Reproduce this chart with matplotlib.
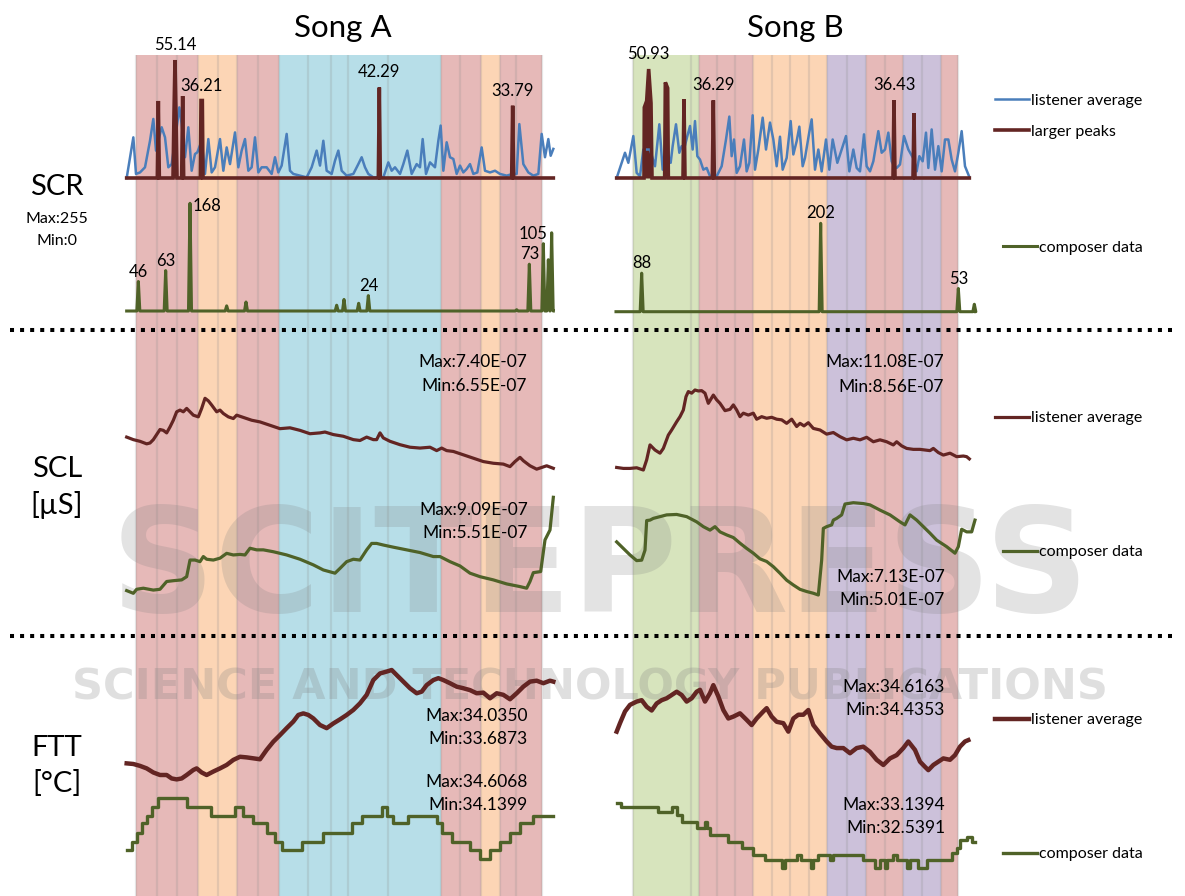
import matplotlib
matplotlib.use('Agg')
import matplotlib.pyplot as plt

plt.rcParams['font.family'] = ['Lato', 'DejaVu Sans']

# ---------------- data ----------------
SONGS = ['Song A', 'Song B']

# section boundaries (time, s) and section colours
A_EDGES = [4.8, 11.0, 17.2, 23.5, 29.5, 35.2, 41.5, 47.8, 56.5, 63.2, 68.5, 80.5,
           96.2, 102.0, 108.3, 114.0, 118.8, 126.5]
A_SECTIONS = ['red', 'red', 'red', 'orange', 'orange', 'red', 'red', 'blue', 'blue',
              'blue', 'blue', 'blue', 'red', 'red', 'orange', 'red', 'red']
B_EDGES = [9.8, 27.2, 29.7, 35.0, 40.5, 46.0, 51.5, 57.0, 62.8, 68.2, 74.0, 79.8,
           85.5, 90.8, 96.5, 102.2, 107.3]
B_SECTIONS = ['green', 'green', 'red', 'red', 'red', 'orange', 'orange', 'orange',
              'orange', 'purple', 'purple', 'red', 'red', 'purple', 'purple', 'red']

# SCR listener average (time, value)
A_SCR_LISTENER = [(2.0, 0), (4.0, 19.0), (4.8, 1.9), (6.0, 2.6), (7.5, 5.0), (9.0, 17.4), (10.0, 27.6),
    (10.8, 12.8), (11.5, 17.4), (12.5, 23.7), (13.5, 19.0), (14.5, 5.0), (15.5, 6.5), (16.5, 17.4),
    (17.8, 33.0), (18.5, 25.2), (19.5, 9.7), (20.5, 23.7), (21.5, 3.4), (22.5, 11.2), (23.2, 12.0),
    (24.5, 17.4), (25.5, 1.9), (26.5, 18.2), (27.5, 2.6), (28.5, 5.0), (30.0, 18.2), (31.0, 3.4),
    (32.0, 14.3), (33.0, 6.5), (34.5, 21.3), (35.5, 5.0), (36.5, 12.8), (37.5, 18.2), (38.5, 3.4),
    (39.5, 5.0), (40.5, 19.0), (41.5, 2.6), (42.5, 5.0), (44.0, 5.0), (45.5, 1.9), (46.5, 9.7),
    (47.5, 2.6), (48.5, 5.8), (50.0, 20.6), (51.0, 3.4), (52.0, 1.9), (54.0, 1.1), (56.0, 0.3),
    (57.5, 5.0), (59.0, 12.8), (60.0, 5.8), (61.0, 17.4), (62.0, 3.4), (63.5, 1.9), (64.5, 8.1),
    (65.5, 12.8), (66.5, 3.4), (68.0, 1.1), (70.0, 1.9), (71.5, 6.5), (72.5, 9.7), (73.5, 5.0),
    (74.5, 1.9), (76.0, 0.3), (77.8, 0.3), (79.0, 0.3), (80.5, 7.3), (81.5, 3.4), (82.5, 5.0),
    (84.0, 1.9), (85.0, 6.5), (86.2, 12.8), (87.5, 1.9), (89.0, 6.5), (90.0, 5.0), (90.8, 18.2),
    (91.8, 1.9), (93.0, 7.3), (94.5, 5.0), (95.5, 17.4), (96.2, 24.5), (97.0, 3.4), (98.0, 16.7),
    (99.0, 9.7), (100.0, 8.9), (101.0, 1.9), (102.0, 5.8), (103.0, 2.6), (104.0, 4.2), (105.0, 6.5),
    (106.0, 1.9), (107.2, 2.6), (108.5, 14.3), (109.5, 3.4), (111.0, 2.6), (112.5, 3.4), (114.0, 1.9),
    (116.0, 1.1), (117.8, 1.9), (119.0, 1.9), (119.8, 25.2), (121.0, 6.5), (122.5, 2.6), (124.0, 1.1),
    (125.5, 1.9), (126.5, 20.6), (127.5, 9.7), (128.5, 18.2), (129.2, 10.4), (130.0, 13.6)]
B_SCR_LISTENER = [(5.0, 0), (7.5, 11.8), (8.5, 7.1), (10.0, 19.6), (11.0, 2.4), (12.0, 0.8), (13.0, 13.3),
    (15.0, 13.3), (16.5, 5.5), (17.8, 25.1), (18.8, 3.9), (19.8, 13.3), (21.2, 7.1), (21.8, 14.9),
    (22.8, 25.1), (23.8, 11.8), (24.5, 14.9), (25.2, 13.3), (26.2, 19.6), (27.0, 24.3), (27.8, 13.3),
    (28.5, 26.6), (29.2, 10.2), (30.0, 8.6), (31.0, 3.9), (32.0, 4.7), (33.0, 0.8), (34.0, 0.8),
    (35.0, 0.8), (36.5, 5.5), (37.8, 18.0), (38.8, 28.7), (39.5, 10.2), (40.2, 18.0), (41.0, 2.4),
    (42.0, 5.5), (43.2, 18.0), (44.0, 3.1), (44.8, 7.1), (45.8, 29.3), (46.5, 3.9), (47.5, 13.3),
    (48.8, 28.2), (49.8, 13.3), (51.0, 25.9), (52.0, 18.0), (53.0, 5.5), (54.0, 19.3), (54.8, 3.9),
    (56.0, 9.4), (57.2, 26.6), (58.0, 11.0), (59.0, 17.2), (59.8, 24.0), (60.8, 5.5), (61.5, 9.4),
    (62.8, 21.5), (63.5, 27.4), (64.5, 3.9), (65.5, 13.3), (66.5, 3.1), (67.8, 18.0), (68.8, 3.9),
    (69.8, 18.0), (71.2, 7.1), (72.5, 13.3), (73.8, 19.6), (74.8, 3.1), (76.0, 13.3), (77.0, 4.7),
    (78.0, 3.1), (79.2, 20.4), (80.0, 5.5), (81.0, 3.1), (82.0, 7.8), (83.5, 21.9), (84.5, 11.8),
    (85.5, 13.3), (86.5, 21.2), (87.5, 7.8), (88.2, 5.5), (89.0, 4.7), (90.0, 6.3), (91.2, 19.6),
    (92.5, 13.3), (94.2, 8.6), (95.0, 3.1), (95.8, 10.2), (96.8, 7.8), (97.8, 21.2), (98.5, 4.7),
    (99.5, 22.7), (100.5, 3.9), (101.5, 14.9), (102.5, 3.1), (103.5, 18.0), (104.5, 18.0),
    (105.5, 8.6), (106.5, 3.1), (107.5, 11.8), (108.5, 21.9), (109.5, 5.5), (110.8, 0.5)]

# SCR larger peaks (time, value)
A_SCR_PEAKS = [(2.0, 0), (11.2, 0), (11.5, 36.0), (11.8, 0), (15.9, 0), (16.2, 30.0), (16.5, 55.14),
    (16.8, 30.0), (17.1, 0), (18.5, 0), (18.8, 38.3), (19.1, 0), (24.1, 0), (24.3, 36.21),
    (24.7, 36.21), (24.9, 0), (77.5, 0), (77.8, 42.29), (78.1, 0), (117.5, 0), (117.8, 33.79),
    (118.1, 0), (130.0, 0)]
B_SCR_PEAKS = [(5.0, 0), (13.2, 0), (13.3, 33.0), (14.0, 36.0), (14.6, 50.93), (15.3, 35.0), (15.6, 0),
    (19.4, 0), (19.6, 44.7), (20.3, 42.0), (20.5, 0), (24.9, 0), (25.2, 36.8), (25.5, 0),
    (33.7, 0), (34.0, 36.29), (34.3, 0), (87.9, 0), (88.2, 36.43), (88.5, 0), (93.9, 0),
    (94.2, 30.3), (94.5, 0), (110.8, 0)]
A_PEAK_LABELS = [(16.6, 55.14, '55.14'), (24.5, 36.21, '36.21'), (77.8, 42.29, '42.29'), (117.8, 33.79, '33.79')]
B_PEAK_LABELS = [(14.6, 50.93, '50.93'), (34.0, 36.29, '36.29'), (88.2, 36.43, '36.43')]

# SCR composer data: spikes (time, value), range 0..255
A_SCR_COMPOSER = [(5.5, 46), (13.7, 63), (21.0, 168), (32.0, 8), (37.8, 14), (65.0, 9), (67.2, 18),
    (71.6, 12), (74.5, 24), (119.0, 2), (122.8, 73), (127.0, 105), (128.5, 80), (129.5, 122)]
B_SCR_COMPOSER = [(12.5, 88), (66.2, 202), (107.5, 53), (112.3, 17)]
A_COMP_LABELS = [(5.5, 46, '46', 0), (13.7, 63, '63', 0), (74.5, 24, '24', 0),
                 (122.8, 73, '73', 0), (127.0, 105, '105', -10)]
B_COMP_LABELS = [(12.5, 88, '88', 0), (66.2, 202, '202', 0), (107.5, 53, '53', 0)]

# SCL (x1e-7 uS)
A_SCL_LISTENER = [(2.0, 6.94), (4.0, 6.91), (6.0, 6.89), (8.0, 6.86), (9.0, 6.87), (10.0, 6.91), (11.0, 6.97),
    (12.0, 7.03), (13.0, 7.02), (14.0, 6.99), (15.0, 7.06), (16.0, 7.14), (17.0, 7.24), (18.0, 7.26),
    (19.0, 7.24), (20.0, 7.28), (21.0, 7.24), (22.0, 7.20), (23.5, 7.18), (24.5, 7.28), (25.5, 7.40),
    (26.5, 7.37), (27.5, 7.32), (29.0, 7.24), (30.0, 7.26), (31.0, 7.22), (32.5, 7.18), (34.0, 7.16),
    (35.0, 7.20), (36.5, 7.18), (38.0, 7.16), (39.5, 7.14), (42.0, 7.12), (45.0, 7.08), (48.0, 7.04),
    (51.0, 7.05), (54.0, 7.02), (57.0, 6.98), (60.0, 6.99), (61.5, 7.00), (64.0, 6.97), (67.0, 6.95),
    (70.0, 6.91), (72.0, 6.90), (74.0, 6.94), (76.0, 6.91), (77.0, 6.91), (78.0, 6.99), (79.0, 6.93),
    (81.0, 6.89), (84.0, 6.85), (87.0, 6.82), (90.0, 6.81), (93.0, 6.82), (95.0, 6.78), (96.5, 6.81),
    (98.0, 6.78), (100.0, 6.77), (103.0, 6.73), (106.0, 6.69), (109.0, 6.65), (112.0, 6.63),
    (115.0, 6.62), (117.0, 6.59), (118.5, 6.65), (120.0, 6.70), (121.0, 6.66), (123.0, 6.60),
    (125.0, 6.56), (126.5, 6.58), (128.0, 6.60), (130.0, 6.57)]
A_SCL_COMPOSER = [(2.0, 5.61), (4.0, 5.51), (5.0, 5.66), (7.0, 5.70), (10.0, 5.63), (12.0, 5.66), (14.0, 5.95),
    (16.0, 5.98), (18.5, 6.01), (20.0, 6.13), (21.0, 6.75), (22.5, 6.75), (24.0, 6.69), (25.0, 6.88),
    (26.0, 6.78), (28.0, 6.75), (30.0, 6.82), (32.0, 7.00), (34.0, 6.94), (36.0, 6.96), (37.5, 6.94),
    (39.0, 7.19), (41.0, 7.13), (43.0, 7.13), (46.0, 7.06), (50.0, 6.94), (54.0, 6.78), (58.0, 6.57),
    (61.0, 6.38), (64.5, 6.26), (66.0, 6.44), (68.0, 6.69), (70.0, 6.78), (72.0, 6.75), (74.0, 7.13),
    (75.5, 7.37), (77.0, 7.37), (79.0, 7.31), (82.0, 7.23), (86.0, 7.13), (90.0, 7.03), (94.0, 6.88),
    (96.0, 6.88), (99.0, 6.69), (102.0, 6.53), (105.0, 6.26), (108.0, 6.13), (112.0, 6.01),
    (116.0, 5.86), (120.0, 5.76), (122.0, 5.70), (123.0, 5.95), (124.0, 6.28), (126.2, 6.32),
    (127.5, 7.50), (129.0, 7.87), (130.0, 9.09)]
B_SCL_LISTENER = [(5.0, 8.64), (7.0, 8.61), (9.0, 8.61), (11.0, 8.63), (13.0, 8.56), (14.0, 8.88), (15.0, 9.35),
    (16.5, 9.19), (18.0, 9.09), (19.0, 9.24), (20.5, 9.66), (21.5, 9.82), (23.0, 10.08), (24.0, 10.24),
    (25.0, 10.45), (25.8, 10.87), (26.5, 11.03), (27.5, 10.98), (28.5, 11.08), (29.5, 11.05),
    (30.5, 11.06), (31.5, 10.98), (32.5, 10.66), (34.0, 10.92), (35.0, 10.77), (36.0, 10.66),
    (37.5, 10.43), (39.0, 10.47), (40.0, 10.61), (41.0, 10.45), (42.0, 10.24), (43.0, 10.35),
    (44.5, 10.29), (46.0, 10.35), (47.0, 10.16), (48.5, 10.24), (50.0, 10.19), (51.5, 10.22),
    (53.0, 10.16), (54.5, 10.14), (56.0, 10.03), (57.5, 10.16), (59.0, 9.93), (60.0, 10.03),
    (61.2, 9.95), (62.5, 10.05), (64.0, 9.87), (66.0, 9.82), (68.0, 9.69), (70.0, 9.74), (72.0, 9.61),
    (74.0, 9.51), (76.0, 9.56), (78.0, 9.51), (80.0, 9.59), (82.0, 9.45), (84.0, 9.51), (86.0, 9.45),
    (88.0, 9.35), (89.0, 9.45), (90.5, 9.32), (92.0, 9.24), (94.0, 9.21), (96.0, 9.21), (99.0, 9.17),
    (100.0, 9.24), (101.5, 9.11), (103.0, 9.03), (105.0, 9.09), (107.0, 8.98), (109.0, 9.00),
    (110.0, 8.98), (110.8, 8.91)]
B_SCL_COMPOSER = [(5.0, 6.23), (7.0, 6.08), (9.0, 5.93), (11.0, 5.80), (12.5, 5.81), (13.5, 6.04), (14.0, 6.72),
    (15.0, 6.73), (16.0, 6.77), (18.0, 6.81), (20.0, 6.85), (23.0, 6.86), (26.0, 6.81), (29.0, 6.69),
    (31.0, 6.58), (33.0, 6.50), (34.5, 6.58), (36.0, 6.46), (38.0, 6.39), (40.0, 6.33), (42.0, 6.20),
    (44.0, 6.08), (46.0, 5.97), (48.0, 5.84), (50.0, 5.78), (52.0, 5.66), (54.0, 5.51), (56.0, 5.35),
    (58.0, 5.24), (60.0, 5.14), (62.0, 5.09), (64.0, 5.05), (65.5, 5.01), (66.5, 5.81), (67.0, 6.54),
    (68.0, 6.58), (69.5, 6.62), (70.0, 6.73), (71.0, 6.77), (72.5, 6.85), (73.5, 7.10), (76.0, 7.13),
    (79.0, 7.11), (81.0, 7.08), (84.0, 6.96), (87.0, 6.85), (90.0, 6.69), (91.5, 6.62), (93.0, 6.85),
    (95.0, 6.73), (97.0, 6.58), (99.0, 6.43), (101.0, 6.27), (104.0, 6.12), (106.5, 5.97),
    (107.5, 6.12), (108.5, 6.52), (110.0, 6.46), (111.5, 6.46), (112.5, 6.73)]

# FTT (degC)
A_FTT_LISTENER = [(2.0, 33.738), (4.0, 33.736), (6.0, 33.730), (8.0, 33.722), (10.0, 33.709), (12.0, 33.701),
    (14.0, 33.701), (15.5, 33.690), (17.0, 33.687), (18.5, 33.690), (20.0, 33.701), (22.0, 33.717),
    (23.0, 33.722), (24.5, 33.709), (26.0, 33.701), (28.0, 33.712), (30.0, 33.722), (32.0, 33.733),
    (34.0, 33.749), (36.0, 33.759), (38.0, 33.757), (40.0, 33.754), (42.0, 33.751), (44.0, 33.781),
    (46.0, 33.807), (48.0, 33.828), (50.0, 33.850), (52.0, 33.871), (53.5, 33.892), (55.0, 33.897),
    (56.5, 33.892), (58.0, 33.881), (60.0, 33.860), (62.0, 33.850), (64.0, 33.865), (66.0, 33.878),
    (68.0, 33.892), (70.0, 33.908), (72.0, 33.929), (74.0, 33.956), (76.0, 34.003), (78.0, 34.024),
    (80.0, 34.030), (81.5, 34.035), (83.0, 34.019), (85.0, 33.998), (87.0, 33.977), (89.0, 33.961),
    (90.5, 33.966), (92.0, 33.987), (94.0, 34.003), (95.5, 34.009), (97.0, 34.003), (99.0, 33.993),
    (101.0, 33.982), (103.0, 33.977), (105.0, 33.971), (107.0, 33.961), (109.0, 33.963),
    (111.0, 33.945), (113.0, 33.961), (115.0, 33.956), (117.0, 33.942), (119.0, 33.961),
    (121.0, 33.982), (123.0, 33.998), (125.0, 34.001), (127.0, 33.993), (129.0, 34.001), (130.0, 33.998)]
A_FTT_COMPOSER = [(2.0, 34.211), (3.5, 34.275), (5.0, 34.344), (6.5, 34.416), (8.0, 34.474), (9.5, 34.543),
    (11.5, 34.607), (20.0, 34.543), (27.2, 34.474), (34.5, 34.543), (37.0, 34.474), (40.0, 34.416),
    (44.0, 34.344), (46.5, 34.275), (48.5, 34.211), (54.5, 34.275), (61.0, 34.344), (69.5, 34.416),
    (72.5, 34.474), (78.5, 34.543), (80.0, 34.474), (82.0, 34.416), (86.5, 34.474), (95.0, 34.416),
    (96.5, 34.344), (99.5, 34.275), (105.0, 34.211), (108.0, 34.140), (111.0, 34.211), (114.0, 34.275),
    (117.0, 34.344), (120.0, 34.416), (124.0, 34.474), (130.0, 34.474)]
B_FTT_LISTENER = [(5.0, 34.517), (6.0, 34.535), (7.5, 34.560), (9.0, 34.574), (11.0, 34.581), (12.5, 34.584),
    (14.0, 34.570), (15.5, 34.562), (17.0, 34.577), (18.5, 34.584), (20.0, 34.588), (21.5, 34.595),
    (23.0, 34.602), (24.5, 34.595), (26.0, 34.581), (27.5, 34.588), (29.0, 34.602), (30.0, 34.606),
    (31.5, 34.581), (33.0, 34.599), (34.0, 34.616), (35.5, 34.592), (37.0, 34.563), (38.5, 34.545),
    (40.0, 34.549), (42.0, 34.556), (44.0, 34.542), (45.5, 34.531), (47.0, 34.545), (49.0, 34.560),
    (50.0, 34.567), (51.5, 34.549), (53.0, 34.538), (55.0, 34.535), (56.5, 34.517), (58.0, 34.545),
    (59.5, 34.553), (61.0, 34.553), (62.5, 34.563), (64.0, 34.531), (66.0, 34.513), (68.0, 34.496),
    (69.5, 34.485), (71.0, 34.482), (73.0, 34.482), (75.0, 34.471), (77.0, 34.482), (79.0, 34.485),
    (81.0, 34.474), (83.0, 34.457), (85.0, 34.446), (87.0, 34.460), (89.0, 34.467), (91.0, 34.482),
    (92.5, 34.496), (94.5, 34.478), (96.0, 34.453), (97.5, 34.442), (98.5, 34.435), (100.0, 34.446),
    (101.5, 34.453), (103.0, 34.460), (105.0, 34.457), (106.5, 34.467), (108.0, 34.485),
    (109.5, 34.496), (110.5, 34.499)]
B_FTT_COMPOSER = [(5.0, 33.139), (6.2, 33.109), (17.5, 33.062), (21.5, 33.109), (23.2, 33.032), (24.5, 32.970),
    (29.0, 32.909), (31.5, 32.970), (32.2, 32.909), (33.0, 32.847), (38.5, 32.786), (42.5, 32.724),
    (46.0, 32.662), (49.5, 32.616), (54.5, 32.539), (55.5, 32.616), (59.2, 32.662), (60.2, 32.616),
    (63.2, 32.539), (64.0, 32.616), (65.5, 32.662), (69.0, 32.616), (70.0, 32.662), (79.0, 32.616),
    (82.5, 32.539), (84.0, 32.616), (85.5, 32.539), (86.2, 32.616), (88.0, 32.662), (89.0, 32.616),
    (92.0, 32.539), (93.0, 32.616), (95.5, 32.539), (98.0, 32.616), (105.5, 32.678), (107.0, 32.724),
    (108.0, 32.801), (110.0, 32.832), (111.5, 32.786), (112.5, 32.786)]

# min / max annotations
A_SCL_L_MM = ('Max:7.40E-07', 'Min:6.55E-07')
A_SCL_C_MM = ('Max:9.09E-07', 'Min:5.51E-07')
B_SCL_L_MM = ('Max:11.08E-07', 'Min:8.56E-07')
B_SCL_C_MM = ('Max:7.13E-07', 'Min:5.01E-07')
A_FTT_L_MM = ('Max:34.0350', 'Min:33.6873')
A_FTT_C_MM = ('Max:34.6068', 'Min:34.1399')
B_FTT_L_MM = ('Max:34.6163', 'Min:34.4353')
B_FTT_C_MM = ('Max:33.1394', 'Min:32.5391')

# ---------------- style / layout ----------------
W, H = 1185, 896
C_BLUE = '#4A7EBB'
C_RED = '#632523'
C_GREEN = '#4F6228'
BAND = {'red': '#E6B9B8', 'orange': '#FCD5B5', 'blue': '#B7DEE8',
        'green': '#D7E4BD', 'purple': '#CCC1DA'}
SONG_X = {'A': (120, 553.33, 0, 130), 'B': (600, 983.33, 0, 115)}

fig = plt.figure(figsize=(W / 100, H / 100), dpi=100)


def add_panel(song, v1, y1, v2, y2, z=3):
    x0, x1, t0, t1 = SONG_X[song]
    if y1 < y2:
        ytop, vtop, ybot, vbot = y1, v1, y2, v2
    else:
        ytop, vtop, ybot, vbot = y2, v2, y1, v1
    ax = fig.add_axes([x0 / W, 1 - ybot / H, (x1 - x0) / W, (ybot - ytop) / H])
    ax.set_zorder(z)
    ax.set_xlim(t0, t1)
    ax.set_ylim(vbot, vtop)
    ax.axis('off')
    ax.patch.set_alpha(0)
    return ax


def unzip(pairs):
    return [p[0] for p in pairs], [p[1] for p in pairs]


def spikes(peaks, t_start, t_end, half):
    ts, vs = [t_start], [0]
    for t, v in peaks:
        ts += [t - half, t, t + half]
        vs += [0, v, 0]
    ts.append(t_end)
    vs.append(0)
    return ts, vs


# background sections
for song, edges, secs in (('A', A_EDGES, A_SECTIONS), ('B', B_EDGES, B_SECTIONS)):
    bg = add_panel(song, 0, 896, 1, 55, z=0)
    for i, c in enumerate(secs):
        bg.axvspan(edges[i], edges[i + 1], color=BAND[c], lw=0)
    for e in edges:
        bg.axvline(e, color='#8c8c8c', alpha=0.22, lw=1.6)

# watermark layer (above sections, below data)
wm = fig.add_axes([0, 0, 1, 1])
wm.set_zorder(1)
wm.set_xlim(0, W)
wm.set_ylim(H, 0)
wm.axis('off')
wm.patch.set_alpha(0)
wm.text(600, 572, 'SCITEPRESS', ha='center', va='center', fontsize=104,
        family='DejaVu Sans', weight='bold', color='#808080', alpha=0.22)
wm.text(590, 688, 'SCIENCE AND TECHNOLOGY PUBLICATIONS', ha='center', va='center',
        fontsize=31, family='DejaVu Sans', weight='bold', color='#808080', alpha=0.25)

handles = {}

# ---- SCR listener ----
for song, lst, pk, labels in (('A', A_SCR_LISTENER, A_SCR_PEAKS, A_PEAK_LABELS),
                              ('B', B_SCR_LISTENER, B_SCR_PEAKS, B_PEAK_LABELS)):
    ax = add_panel(song, 0, 178, 50, 71)
    t, v = unzip(lst)
    l1, = ax.plot(t, v, color=C_BLUE, lw=1.8, clip_on=False, solid_joinstyle='round')
    t, v = unzip(pk)
    ax.fill_between(t, v, 0, color=C_RED, lw=0, clip_on=False)
    l2, = ax.plot(t, v, color=C_RED, lw=2.6, clip_on=False, solid_joinstyle='miter')
    for tt, vv, s in labels:
        ax.annotate(s, (tt, vv), xytext=(0, 7), textcoords='offset pixels',
                    ha='center', va='bottom', fontsize=12, annotation_clip=False)
    handles['scr_l'] = l1
    handles['scr_p'] = l2

# ---- SCR composer ----
for song, peaks, t0, t1, y0, vref, yref, labels in (
        ('A', A_SCR_COMPOSER, 2.0, 130.0, 311, 168, 203.3, A_COMP_LABELS),
        ('B', B_SCR_COMPOSER, 4.8, 112.6, 311.7, 202, 223.3, B_COMP_LABELS)):
    ax = add_panel(song, 0, y0, vref, yref)
    t, v = spikes(peaks, t0, t1, 0.45)
    l3, = ax.plot(t, v, color=C_GREEN, lw=2.2, clip_on=False, solid_joinstyle='round')
    for tt, vv, s, dx in labels:
        ax.annotate(s, (tt, vv), xytext=(dx, 2), textcoords='offset pixels',
                    ha='center', va='bottom', fontsize=12, annotation_clip=False)
    if song == 'A':
        ax.annotate('168', (21.0, 168), xytext=(3, -3), textcoords='offset pixels',
                    ha='left', va='center', fontsize=12, annotation_clip=False)
    handles['scr_c'] = l3

# ---- SCL ----
a = add_panel('A', 6.55, 470, 7.40, 398.3)
t, v = unzip(A_SCL_LISTENER)
a.plot(t, v, color=C_RED, lw=2.3, clip_on=False)
a = add_panel('A', 5.51, 593.3, 9.09, 497.3)
t, v = unzip(A_SCL_COMPOSER)
a.plot(t, v, color=C_GREEN, lw=2.3, clip_on=False)
b = add_panel('B', 8.56, 470, 11.08, 390)
t, v = unzip(B_SCL_LISTENER)
lsl, = b.plot(t, v, color=C_RED, lw=2.3, clip_on=False)
b = add_panel('B', 5.01, 595, 7.13, 502.7)
t, v = unzip(B_SCL_COMPOSER)
lsc, = b.plot(t, v, color=C_GREEN, lw=2.3, clip_on=False)

# ---- FTT ----
a = add_panel('A', 33.6873, 779.3, 34.0350, 670)
t, v = unzip(A_FTT_LISTENER)
a.plot(t, v, color=C_RED, lw=3.2, clip_on=False)
a = add_panel('A', 34.1399, 859.3, 34.6068, 798.3)
t, v = unzip(A_FTT_COMPOSER)
a.plot(t, v, color=C_GREEN, lw=2.4, drawstyle='steps-post', clip_on=False)
b = add_panel('B', 34.4353, 770, 34.6163, 685)
t, v = unzip(B_FTT_LISTENER)
lfl, = b.plot(t, v, color=C_RED, lw=3.2, clip_on=False)
b = add_panel('B', 32.5391, 868.3, 33.1394, 803.3)
t, v = unzip(B_FTT_COMPOSER)
lfc, = b.plot(t, v, color=C_GREEN, lw=2.4, drawstyle='steps-post', clip_on=False)

# ---------------- overlay text ----------------
ov = fig.add_axes([0, 0, 1, 1])
ov.set_zorder(10)
ov.set_xlim(0, W)
ov.set_ylim(H, 0)
ov.axis('off')
ov.patch.set_alpha(0)

ov.text(343, 28, SONGS[0], ha='center', va='center', fontsize=22.5)
ov.text(795, 28, SONGS[1], ha='center', va='center', fontsize=22.5)

ov.text(57, 187, 'SCR', ha='center', va='center', fontsize=21)
ov.text(57, 219, 'Max:255', ha='center', va='center', fontsize=11.5)
ov.text(57, 241, 'Min:0', ha='center', va='center', fontsize=11.5)
ov.text(57, 469, 'SCL', ha='center', va='center', fontsize=21)
ov.text(57, 505, '[µS]', ha='center', va='center', fontsize=21)
ov.text(57, 748, 'FTT', ha='center', va='center', fontsize=21)
ov.text(57, 784, '[°C]', ha='center', va='center', fontsize=21)

MM_POS = [(A_SCL_L_MM, 527, 362, 386), (A_SCL_C_MM, 528, 510, 533),
          (B_SCL_L_MM, 944, 362, 387), (B_SCL_C_MM, 945, 577, 600),
          (A_FTT_L_MM, 528, 716, 739), (A_FTT_C_MM, 528, 782, 805),
          (B_FTT_L_MM, 945, 687, 710), (B_FTT_C_MM, 945, 805, 828)]
for (mx, mn), x, y1, y2 in MM_POS:
    ov.text(x, y1, mx, ha='right', va='center', fontsize=12.5)
    ov.text(x, y2, mn, ha='right', va='center', fontsize=12.5)

# separators
for y in (330, 636):
    ov.axhline(y, xmin=10 / W, xmax=1172 / W, color='black', lw=2.9,
               linestyle=(0, (1, 1.5)), dash_capstyle='butt')


# legends
def legend(hs, labels, x, y):
    lg = fig.legend(hs, labels, loc='center left', bbox_to_anchor=(x / W, 1 - y / H),
                    frameon=False, fontsize=11.5, handlelength=2.1, handletextpad=0.15,
                    borderpad=0, borderaxespad=0, labelspacing=1.05)
    lg.set_zorder(11)
    return lg


legend([handles['scr_l'], handles['scr_p']], ['listener average', 'larger peaks'], 995, 116)
legend([handles['scr_c']], ['composer data'], 1003, 248)
legend([lsl], ['listener average'], 995, 418)
legend([lsc], ['composer data'], 1003, 552)
legend([lfl], ['listener average'], 995, 720)
legend([lfc], ['composer data'], 1003, 854)

fig.savefig('out.png', dpi=100)
